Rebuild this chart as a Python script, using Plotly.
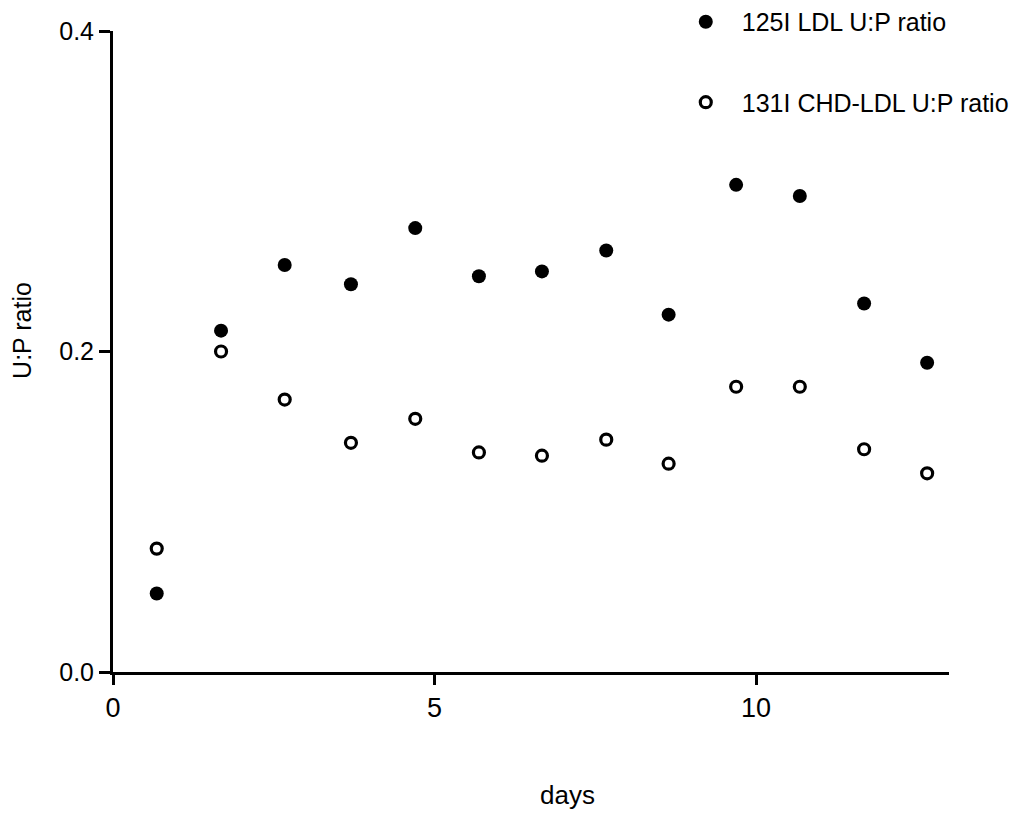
import plotly.graph_objects as go

days = [0.68, 1.68, 2.67, 3.70, 4.70, 5.69, 6.67, 7.67, 8.64, 9.69, 10.68, 11.68, 12.66]
ldl_125i = [0.049, 0.213, 0.254, 0.242, 0.277, 0.247, 0.250, 0.263, 0.223, 0.304, 0.297, 0.230, 0.193]
chd_ldl_131i = [0.077, 0.200, 0.170, 0.143, 0.158, 0.137, 0.135, 0.145, 0.130, 0.178, 0.178, 0.139, 0.124]

x_ticks = [0, 5, 10]
y_ticks = [0.0, 0.2, 0.4]
y_tick_labels = ["0.0", "0.2", "0.4"]
x_title = "days"
y_title = "U:P ratio"

FONT = "Liberation Sans, Arial, Helvetica, sans-serif"

fig = go.Figure()
fig.add_trace(go.Scatter(
    x=days, y=ldl_125i, mode="markers", name="125I LDL U:P ratio",
    legendgroup="a",
    marker=dict(symbol="circle", size=14, color="black", line=dict(width=0)),
))
fig.add_trace(go.Scatter(
    x=days, y=chd_ldl_131i, mode="markers", name="131I CHD-LDL U:P ratio",
    legendgroup="b",
    marker=dict(symbol="circle-open", size=11, color="black", line=dict(width=3.2, color="black")),
))

fig.update_layout(
    width=1026, height=810,
    margin=dict(l=105, r=85, t=23, b=146, autoexpand=False),
    paper_bgcolor="white", plot_bgcolor="white",
    font=dict(family=FONT, size=24, color="black"),
    showlegend=True,
    legend=dict(
        x=0.666, y=1.05, xanchor="left", yanchor="top",
        traceorder="grouped", tracegroupgap=45, itemwidth=62,
        font=dict(family=FONT, size=25, color="black"),
        bgcolor="rgba(0,0,0,0)",
    ),
    xaxis=dict(
        range=[0, 13], tickvals=x_ticks, showgrid=False, zeroline=False,
        showline=True, linecolor="black", linewidth=3,
        ticks="outside", ticklen=10, tickwidth=3, tickcolor="black",
        tickfont=dict(size=27), automargin=False,
    ),
    yaxis=dict(
        range=[0, 0.4], tickvals=y_ticks, ticktext=y_tick_labels,
        showgrid=False, zeroline=False,
        showline=True, linecolor="black", linewidth=3,
        ticks="outside", ticklen=11, tickwidth=3, tickcolor="black",
        tickfont=dict(size=25), ticklabelstandoff=0, automargin=False,
    ),
    annotations=[
        dict(text=x_title, xref="paper", yref="paper", x=0.544, y=-0.192,
             xanchor="center", yanchor="middle", showarrow=False,
             font=dict(family=FONT, size=26, color="black")),
        dict(text=y_title, xref="paper", yref="paper", x=-0.109, y=0.5335,
             xanchor="center", yanchor="middle", showarrow=False, textangle=-90,
             font=dict(family=FONT, size=25, color="black")),
    ],
)

fig.write_html("out.html")
